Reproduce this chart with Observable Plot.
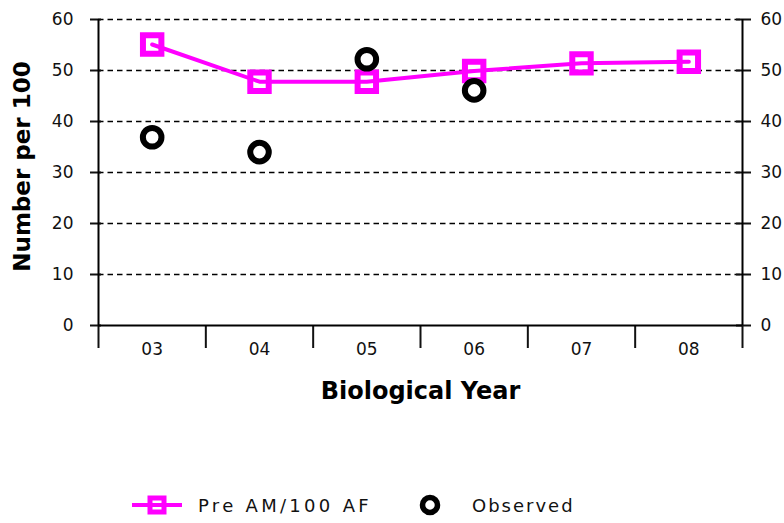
<!DOCTYPE html>
<html>
<head>
<meta charset="utf-8">
<script src="https://cdn.jsdelivr.net/npm/d3@7"></script>
<script src="https://cdn.jsdelivr.net/npm/@observablehq/plot@0.6"></script>
<style>
  html, body { margin: 0; padding: 0; background: #fff; }
  #wrap { position: relative; width: 784px; height: 523px; overflow: hidden; font-family: "DejaVu Sans", sans-serif; }
  #legend { position: absolute; left: 0; top: 492px; width: 784px; height: 26px; }
  .item { position: absolute; top: 0; height: 26px; display: flex; align-items: center; }
  .lbl { font-size: 18px; color: #111; }
</style>
</head>
<body>
<div id="wrap">
  <div id="chart"></div>
  <div id="legend"></div>
</div>
<script>
// ---- data ----
const years = ["03", "04", "05", "06", "07", "08"];
const preAM = [55.1, 47.8, 47.8, 49.9, 51.4, 51.7];     // Pre AM/100 AF
const observed = [36.9, 34.0, 52.2, 46.1, null, null];  // Observed
const yTicks = [0, 10, 20, 30, 40, 50, 60];
const seriesNames = ["Pre AM/100 AF", "Observed"];
const yLabel = "Number per 100";
const xLabel = "Biological Year";

const MAG = "#ff00ff";
const preData = years.map((yr, i) => ({i, yr, v: preAM[i]}));
const obsData = years.map((yr, i) => ({i, yr, v: observed[i]})).filter(d => d.v != null);
const bandEdges = d3.range(years.length + 1);
const bandCenters = years.map((_, i) => i + 0.5);

const chart = Plot.plot({
  width: 784,
  height: 470,
  marginLeft: 98,
  marginRight: 42,
  marginTop: 19,
  marginBottom: 145,
  style: {fontFamily: "DejaVu Sans, sans-serif", color: "#111", background: "#fff"},
  x: {type: "linear", domain: [0, years.length]},
  y: {domain: [0, 60]},
  marks: [
    Plot.gridY(yTicks.filter(t => t > 0), {stroke: "#000", strokeOpacity: 1, strokeWidth: 1.6, strokeDasharray: "5.5,4"}),
    Plot.axisY(yTicks, {anchor: "left", tickSize: 8, tickPadding: 17, fontSize: 17, strokeWidth: 2, label: null}),
    Plot.axisY(yTicks, {anchor: "left", tickSize: -3, tickFormat: () => "", strokeWidth: 2, label: null}),
    Plot.axisY(yTicks, {anchor: "right", tickSize: 8, tickPadding: 10, fontSize: 17, strokeWidth: 2, label: null}),
    Plot.axisY(yTicks, {anchor: "right", tickSize: -7, tickFormat: () => "", strokeWidth: 2, label: null}),
    Plot.axisX(bandEdges, {tickSize: 23, tickFormat: () => "", strokeWidth: 2, label: null}),
    Plot.axisX(bandCenters, {tickSize: 0, tickPadding: 17, fontSize: 17, tickFormat: d => years[Math.floor(d)], label: null}),
    Plot.ruleX([0, years.length], {y1: 0, y2: 60, stroke: "#000", strokeWidth: 2}),
    Plot.ruleY([0], {x1: 0, x2: years.length, stroke: "#000", strokeWidth: 2}),
    Plot.line(preData, {x: d => d.i + 0.5, y: "v", stroke: MAG, strokeWidth: 4}),
    Plot.dot(preData, {x: d => d.i + 0.5, y: "v", symbol: "square", r: 10.4, stroke: MAG, strokeWidth: 6, fill: "#fff", fillOpacity: 0}),
    Plot.dot(obsData, {x: d => d.i + 0.5, y: "v", symbol: "circle", r: 9.3, stroke: "#000", strokeWidth: 6, fill: "none"}),
    Plot.text([yLabel], {frameAnchor: "left", textAnchor: "middle", dx: -76, dy: -6, rotate: -90, fontSize: 23, fontWeight: "bold", fill: "#000", letterSpacing: "0.6px"}),
    Plot.text([xLabel], {frameAnchor: "bottom", textAnchor: "middle", dy: 73, fontSize: 24, fontWeight: "bold", fill: "#000", letterSpacing: "0.6px"})
  ]
});
document.getElementById("chart").appendChild(chart);

// ---- legend ----
const legend = d3.select("#legend");
const it1 = legend.append("div").attr("class", "item").style("left", "130px");
const s1 = it1.append("svg").attr("width", 54).attr("height", 26);
s1.append("line").attr("x1", 2).attr("x2", 52).attr("y1", 13).attr("y2", 13).attr("stroke", MAG).attr("stroke-width", 4);
s1.append("rect").attr("x", 20).attr("y", 6).attr("width", 14).attr("height", 14).attr("fill", "none").attr("stroke", MAG).attr("stroke-width", 5);
it1.append("span").attr("class", "lbl").style("margin-left", "14px").style("letter-spacing", "3.3px").text(seriesNames[0]);

const it2 = legend.append("div").attr("class", "item").style("left", "416px");
const s2 = it2.append("svg").attr("width", 28).attr("height", 26);
s2.append("circle").attr("cx", 14).attr("cy", 13).attr("r", 7.5).attr("fill", "none").attr("stroke", "#000").attr("stroke-width", 5.5);
it2.append("span").attr("class", "lbl").style("margin-left", "28px").style("letter-spacing", "2px").text(seriesNames[1]);
</script>
</body>
</html>
